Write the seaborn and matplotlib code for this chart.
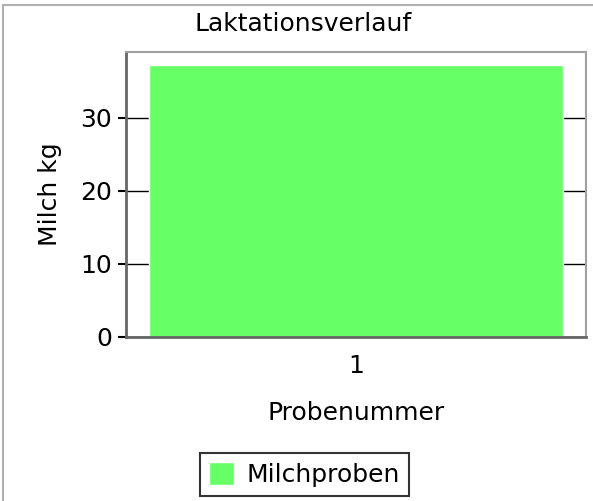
import matplotlib
matplotlib.use("Agg")
import matplotlib.pyplot as plt
import seaborn as sns
import pandas as pd
from matplotlib.lines import Line2D

categories = ["1"]
values = [37.2]
series_name = "Milchproben"
y_ticks = [0, 10, 20, 30]

sns.set_theme(style="white")
plt.rcParams['font.family'] = ['DejaVu Sans']
plt.rcParams['text.color'] = 'black'
plt.rcParams['axes.labelcolor'] = 'black'
plt.rcParams['xtick.color'] = 'black'
plt.rcParams['ytick.color'] = 'black'

df = pd.DataFrame({"Probenummer": categories, "Milch kg": values, "Serie": [series_name] * len(categories)})

fig = plt.figure(figsize=(5.93, 5.01), dpi=100)
ax = fig.add_axes([126/593, 1-337/501, 460/593, 285/501])

sns.barplot(data=df, x="Probenummer", y="Milch kg", hue="Serie", palette=["#66ff66"],
            width=0.9, saturation=1, ax=ax, zorder=2, legend=True)

ax.set_ylim(0, 39)
ax.set_yticks(y_ticks)
ax.set_yticklabels([str(t) for t in y_ticks], fontsize=18, color='black')
ax.tick_params(axis='x', labelsize=18, length=0, pad=12, labelcolor='black')
ax.tick_params(axis='y', left=True, length=6, width=1.5, color='black', direction='out', pad=4)
ax.yaxis.grid(True, color='black', linewidth=1, zorder=0)
ax.set_axisbelow(True)

for s in ['left', 'bottom']:
    ax.spines[s].set_color('#666666')
    ax.spines[s].set_linewidth(2)
for s in ['top', 'right']:
    ax.spines[s].set_color('#a0a0a0')
    ax.spines[s].set_linewidth(1.5)

ax.set_xlabel("Probenummer", fontsize=18, color='black')
ax.set_ylabel("Milch kg", fontsize=18, color='black')
ax.xaxis.set_label_coords(0.5, (337-401)/285)
ax.yaxis.set_label_coords((62-126)/460, 0.5)
fig.text(303/593, 1-24/501, "Laktationsverlauf", fontsize=18, color='black', ha='center', va='center')

leg = ax.legend(loc='center', bbox_to_anchor=(304.5/593, 1-474.5/501), bbox_transform=fig.transFigure,
                fontsize=18, frameon=True, fancybox=False, handlelength=1.0, handleheight=1.0,
                handletextpad=0.5, borderpad=0.35, borderaxespad=0)
leg.get_frame().set_edgecolor('black')
leg.get_frame().set_linewidth(1.5)
for t in leg.get_texts():
    t.set_color('black')

fig.add_artist(Line2D([3/593, 3/593], [0, 1-5/501], transform=fig.transFigure, color='#b0b0b0', linewidth=1.5))
fig.add_artist(Line2D([3/593, 1], [1-5/501, 1-5/501], transform=fig.transFigure, color='#b0b0b0', linewidth=1.5))

fig.savefig("out.png", dpi=100)
